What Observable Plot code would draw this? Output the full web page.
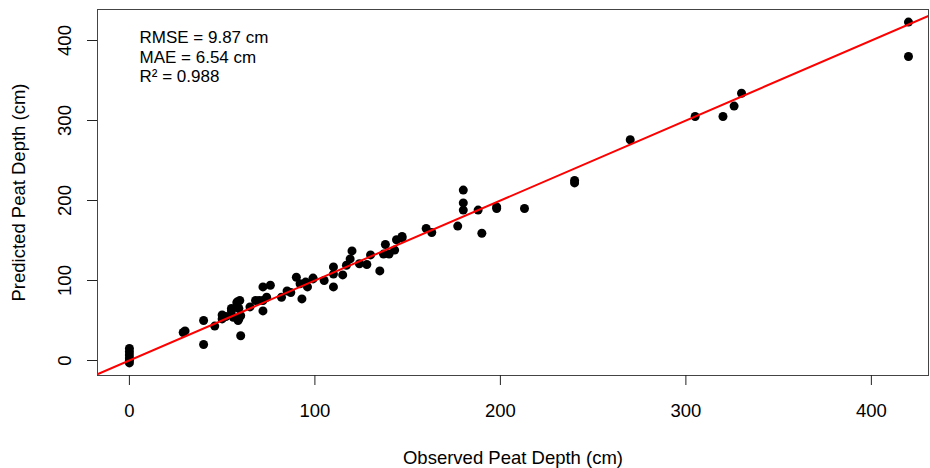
<!DOCTYPE html>
<html><head><meta charset="utf-8">
<script src="https://cdn.jsdelivr.net/npm/d3@7"></script>
<script src="https://cdn.jsdelivr.net/npm/@observablehq/plot@0.6"></script>
<style>body{margin:0;background:#fff;}</style>
</head><body><div id="chart"></div>
<script>
const observed = [
  0, 0, 0, 0, 0, 0,
  29, 30,
  40, 40, 46,
  50, 50, 52, 55, 56, 55,
  58, 58, 59.5, 59, 60, 58.6, 60, 59,
  65, 68, 70, 72, 76, 72, 72, 74,
  82, 85, 87, 90, 92, 93, 96, 95, 99, 99,
  105, 110, 110, 110, 115, 117, 120, 119, 124, 128, 130, 135, 138, 137, 140, 143, 144, 147, 147,
  160, 163, 177, 180, 180, 180, 188, 190, 198, 198, 213,
  240, 240, 270, 305, 320, 326, 330, 420, 420
];
const predicted = [
  15, 11, 7, 3, 0, -3,
  35, 37,
  50, 20, 43,
  57, 52, 55, 62, 54, 65,
  72, 73, 75, 65, 56, 50, 31, 52,
  67, 75, 75, 92, 94, 75, 62, 79,
  79, 87, 85, 104, 96, 77, 92, 98, 102, 103,
  100, 117, 92, 108, 107, 119, 137, 127, 121, 120, 132, 112, 145, 133, 133, 138, 151, 155, 153,
  165, 160, 168, 213, 197, 188, 188, 159, 192, 190, 190,
  225, 222, 276, 305, 305, 318, 334, 423, 380
];
const xTicks = [0, 100, 200, 300, 400];
const yTicks = [0, 100, 200, 300, 400];
const statsLines = ["RMSE = 9.87 cm", "MAE = 6.54 cm", "R\u00B2 = 0.988"];
const xLabel = "Observed Peat Depth (cm)";
const yLabel = "Predicted Peat Depth (cm)";
const lineIntercept = 0;
const lineSlope = 1;
const xDomain = [-17.2, 430.8];
const yDomain = [-18.75, 438.75];

const points = observed.map((o, i) => ({o, p: predicted[i]}));
const refLine = xDomain.map(x => ({x, y: lineIntercept + lineSlope * x}));

const chart = Plot.plot({
  width: 930, height: 468,
  marginLeft: 97, marginRight: 2, marginTop: 9, marginBottom: 93,
  style: {fontFamily: "'Liberation Sans', Arial, sans-serif", fontSize: "17px", color: "#000", background: "#fff"},
  x: {domain: xDomain},
  y: {domain: yDomain},
  marks: [
    Plot.frame({stroke: "#444", strokeWidth: 1}),
    Plot.axisX(xTicks, {tickSize: 10, tickPadding: 18, label: xLabel, labelAnchor: "center", labelArrow: "none", labelOffset: 88, fontSize: 18.5, stroke: "#222"}),
    Plot.axisY(yTicks, {tickSize: 10, tickRotate: -90, tickPadding: 17, label: yLabel, labelAnchor: "center", labelArrow: "none", labelOffset: 86, fontSize: 18.5, stroke: "#222"}),
    Plot.dot(points, {x: "o", y: "p", r: 4.5, fill: "black", stroke: "none"}),
    Plot.line(refLine, {x: "x", y: "y", stroke: "red", strokeWidth: 2, clip: true}),
    Plot.text([statsLines.join("\n")], {frameAnchor: "top-left", dx: 42, dy: 20, textAnchor: "start", lineAnchor: "top", lineHeight: 1.15, fontSize: 17, fill: "black"})
  ]
});
document.getElementById("chart").appendChild(chart);
</script>
</body></html>
